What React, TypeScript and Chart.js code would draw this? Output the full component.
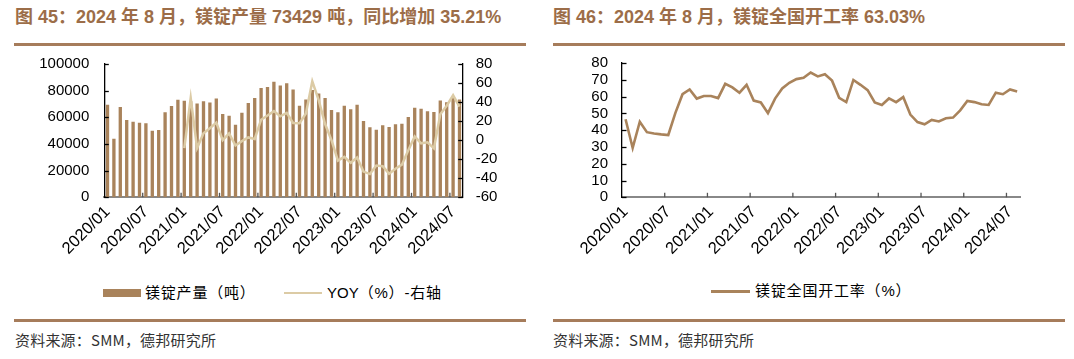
import React, { useEffect, useRef } from "react";
import { Chart, registerables } from "chart.js";

Chart.register(...registerables);

const months: string[] = [
  "2020/01", "2020/02", "2020/03", "2020/04", "2020/05", "2020/06", "2020/07", "2020/08", "2020/09", "2020/10", "2020/11", "2020/12",
  "2021/01", "2021/02", "2021/03", "2021/04", "2021/05", "2021/06", "2021/07", "2021/08", "2021/09", "2021/10", "2021/11", "2021/12",
  "2022/01", "2022/02", "2022/03", "2022/04", "2022/05", "2022/06", "2022/07", "2022/08", "2022/09", "2022/10", "2022/11", "2022/12",
  "2023/01", "2023/02", "2023/03", "2023/04", "2023/05", "2023/06", "2023/07", "2023/08", "2023/09", "2023/10", "2023/11", "2023/12",
  "2024/01", "2024/02", "2024/03", "2024/04", "2024/05", "2024/06", "2024/07", "2024/08",
];

const production: number[] = [
  69400, 44000, 67800, 57900, 56700, 56000, 55500, 49900, 50400, 63800, 68500, 73200,
  72500, 72000, 70400, 72000, 71100, 74100, 62400, 61200, 54400, 63500, 70800, 74400,
  82000, 82800, 86600, 83800, 85600, 80900, 68700, 73400, 80500, 77900, 74400, 65400,
  63800, 68700, 66100, 69400, 57200, 52500, 50600, 54100, 52700, 54800, 55100, 60200,
  67100, 66400, 64500, 64000, 72700, 71300, 75800, 73429,
];

const yoy: (number | null)[] = [
  null, null, null, null, null, null, null, null, null, null, null, null,
  -8.3, 44.4, -8.3, 7.2, 12.5, 18.4, 0, 7.2, -5.6, -1.0, 2.9, 1.3,
  21.5, 26, 30.5, 25, 28.6, 18.1, 17.7, 28, 61.7, 42, 17, 0,
  -21.4, -17.5, -23.8, -18.2, -33, -35.6, -26.7, -27.4, -35.3, -30, -25.7, -10.6,
  3.9, -3.3, -2.3, -8.6, 27.3, 36.2, 47.1, 35.21,
];

const utilization: number[] = [
  46.5, 29.4, 45.0, 38.8, 38.0, 37.5, 37.1, 50.3, 61.4, 64.2, 58.8, 60.3,
  60.3, 59.1, 67.6, 65.5, 62.3, 67.0, 57.6, 56.5, 50.1, 58.8, 64.8, 68.2,
  70.4, 71.2, 74.3, 72.0, 73.3, 69.5, 59.3, 56.7, 69.9, 67.0, 63.8, 56.5,
  55.0, 58.9, 56.7, 59.7, 49.3, 44.8, 43.5, 46.1, 45.2, 47.1, 47.5, 51.8,
  57.4, 56.7, 55.4, 55.0, 62.3, 61.4, 64.2, 63.03,
];

const BAR = "#a9835b";
const YOY = "#dccba5";
const LINE = "#a9835b";
const RULE = "#a67c5b";
const TITLE = "#9c6d48";
const FONT = '"Liberation Sans", Arial, "Noto Sans CJK SC", sans-serif';

const innerTicks = {
  id: "innerTicks",
  afterDraw(chart: any, _args: any, opts: any) {
    const ctx = chart.ctx;
    const { bottom } = chart.chartArea;
    ctx.save();
    ctx.lineWidth = 1.3;
    ctx.strokeStyle = "#000";
    for (const id of opts.yIds || []) {
      const s = chart.scales[id];
      const edge = s.position === "left" ? s.right : s.left;
      const dir = s.position === "left" ? 1 : -1;
      for (const t of s.ticks) {
        const y = Math.round(s.getPixelForValue(t.value)) + 0.5;
        ctx.beginPath();
        ctx.moveTo(edge, y);
        ctx.lineTo(edge + dir * 4.5, y);
        ctx.stroke();
      }
    }
    const xs = chart.scales.x;
    ctx.strokeStyle = "#555";
    ctx.lineWidth = 1.3;
    const n = xs.getLabels().length;
    for (let i = 6; i < n; i += 6) {
      const x = (xs.getPixelForValue(i) + xs.getPixelForValue(i - 1)) / 2;
      ctx.beginPath();
      ctx.moveTo(x, bottom);
      ctx.lineTo(x, bottom - 4.5);
      ctx.stroke();
    }
    ctx.restore();
  },
};

const xAxis = (h: number) => ({
  offset: true,
  grid: { display: false, drawTicks: false, offset: true },
  border: { display: true, color: "#888", width: 2 },
  ticks: {
    autoSkip: false,
    minRotation: 45,
    maxRotation: 45,
    padding: 5,
    color: "#000",
    font: { family: FONT, size: 16.5 },
    callback: (_v: any, i: number) => (i % 6 === 0 ? months[i] : ""),
  },
  afterFit: (s: any) => {
    s.height = h;
  },
});

const yTicks = (step: number, padding: number) => ({
  stepSize: step,
  autoSkip: false,
  padding,
  color: "#000",
  font: { family: FONT, size: 15 },
  callback: (v: any) => String(v),
});

function ProductionChart() {
  const ref = useRef<HTMLCanvasElement>(null);
  useEffect(() => {
    const chart = new Chart(ref.current!, {
      type: "bar",
      data: {
        labels: months,
        datasets: [
          {
            type: "line",
            label: "YOY（%）-右轴",
            data: yoy,
            yAxisID: "y1",
            borderColor: YOY,
            borderWidth: 2.5,
            pointRadius: 0,
            tension: 0,
            order: 0,
          } as any,
          {
            type: "bar",
            label: "镁锭产量（吨）",
            data: production,
            yAxisID: "y",
            backgroundColor: BAR,
            barPercentage: 0.52,
            categoryPercentage: 1,
            order: 1,
          },
        ],
      },
      options: {
        animation: false,
        responsive: false,
        maintainAspectRatio: false,
        layout: { padding: { top: 15.7, left: 0, right: 0, bottom: 0 } },
        plugins: {
          legend: { display: false },
          tooltip: { enabled: false },
          innerTicks: { yIds: ["y", "y1"] },
        } as any,
        scales: {
          x: xAxis(235 - 157.3) as any,
          y: {
            position: "left",
            min: 0,
            max: 100000,
            grid: { display: false, drawTicks: false },
            border: { display: true, color: "#000", width: 1.3 },
            ticks: yTicks(20000, 15) as any,
            afterFit: (s: any) => {
              s.width = 104.3;
            },
          },
          y1: {
            position: "right",
            min: -60,
            max: 80,
            grid: { display: false, drawTicks: false },
            border: { display: true, color: "#000", width: 1.3 },
            ticks: yTicks(20, 13) as any,
            afterFit: (s: any) => {
              s.width = 540 - 462.7;
            },
          },
        },
      },
      plugins: [innerTicks],
    });
    return () => chart.destroy();
  }, []);
  return <canvas ref={ref} width={540} height={235} style={{ position: "absolute", left: 0, top: 40, width: 540, height: 235 }} />;
}

function RateChart() {
  const ref = useRef<HTMLCanvasElement>(null);
  useEffect(() => {
    const chart = new Chart(ref.current!, {
      type: "line",
      data: {
        labels: months,
        datasets: [
          {
            label: "镁锭全国开工率（%）",
            data: utilization,
            borderColor: LINE,
            borderWidth: 2.6,
            pointRadius: 0,
            tension: 0,
          },
        ],
      },
      options: {
        animation: false,
        responsive: false,
        maintainAspectRatio: false,
        layout: { padding: { top: 15.7, left: 0, right: 534 - 480.7, bottom: 0 } },
        plugins: {
          legend: { display: false },
          tooltip: { enabled: false },
          innerTicks: { yIds: ["y"] },
        } as any,
        scales: {
          x: xAxis(235 - 157.3) as any,
          y: {
            position: "left",
            min: 0,
            max: 80,
            grid: { display: false, drawTicks: false },
            border: { display: true, color: "#000", width: 1.3 },
            ticks: yTicks(10, 14) as any,
            afterFit: (s: any) => {
              s.width = 82;
            },
          },
        },
      },
      plugins: [innerTicks],
    });
    return () => chart.destroy();
  }, []);
  return <canvas ref={ref} width={534} height={235} style={{ position: "absolute", left: 540, top: 40, width: 534, height: 235 }} />;
}

const abs = (s: React.CSSProperties): React.CSSProperties => ({ position: "absolute", whiteSpace: "nowrap", ...s });

export default function App() {
  const titleStyle = (left: number): React.CSSProperties =>
    abs({ left, top: 5, fontSize: 18, lineHeight: "24px", fontWeight: "bold", color: TITLE, fontFamily: FONT });
  const sourceStyle = (left: number): React.CSSProperties =>
    abs({ left, top: 330, fontSize: 15, lineHeight: "20px", letterSpacing: 0.2, color: "#333", fontFamily: '"Noto Sans CJK SC", "Liberation Sans", sans-serif' });
  const legendText: React.CSSProperties = { fontSize: 15, lineHeight: "18px", color: "#000", fontFamily: FONT };
  const cjkSpace: React.CSSProperties = { letterSpacing: 0.8 };
  return (
    <div style={{ position: "absolute", left: 0, top: 0, width: 1074, height: 359, background: "#fff", overflow: "hidden" }}>
      <div style={titleStyle(15)}>图 45：2024 年 8 月，镁锭产量 73429 吨，同比增加 35.21%</div>
      <div style={titleStyle(553)}>图 46：2024 年 8 月，镁锭全国开工率 63.03%</div>
      <div style={abs({ left: 14, top: 42.5, width: 512, height: 3, background: RULE })} />
      <div style={abs({ left: 553, top: 42.5, width: 512, height: 3, background: RULE })} />
      <ProductionChart />
      <RateChart />
      <div style={abs({ left: 103, top: 288.5, width: 38, height: 8, background: BAR })} />
      <div style={abs({ ...legendText, ...cjkSpace, left: 145, top: 283.5 })}>镁锭产量（吨）</div>
      <div style={abs({ left: 284, top: 291.5, width: 38, height: 2.5, background: YOY })} />
      <div style={abs({ ...legendText, left: 327, top: 283.5 })}>
        YOY<span style={cjkSpace}>（%）-右轴</span>
      </div>
      <div style={abs({ left: 711, top: 290, width: 39, height: 2.5, background: LINE })} />
      <div style={abs({ ...legendText, ...cjkSpace, left: 755, top: 282 })}>镁锭全国开工率（%）</div>
      <div style={abs({ left: 14, top: 319, width: 512, height: 3, background: RULE })} />
      <div style={abs({ left: 553, top: 319, width: 512, height: 3, background: RULE })} />
      <div style={sourceStyle(15)}>资料来源：SMM，德邦研究所</div>
      <div style={sourceStyle(553)}>资料来源：SMM，德邦研究所</div>
    </div>
  );
}
